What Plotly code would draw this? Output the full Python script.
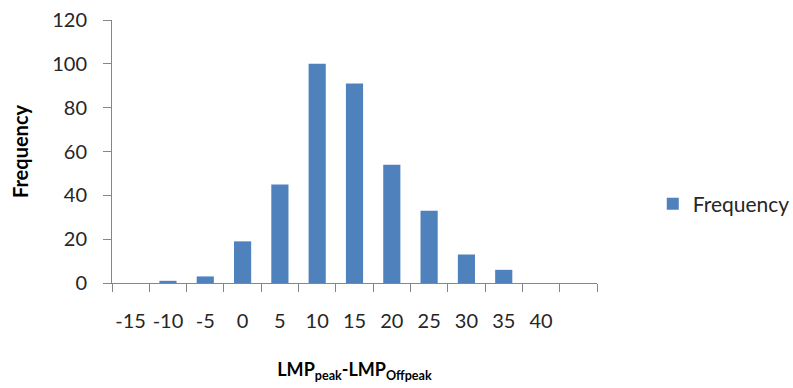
import plotly.graph_objects as go

bins = ["-15", "-10", "-5", "0", "5", "10", "15", "20", "25", "30", "35", "40", " "]
freq = [0, 1, 3, 19, 45, 100, 91, 54, 33, 13, 6, 0, 0]
y_ticks = [0, 20, 40, 60, 80, 100, 120]

FONT = "Lato"
AX = "#868686"

fig = go.Figure()
fig.add_trace(go.Bar(
    x=bins, y=freq, name="Frequency",
    marker=dict(color="#4F81BD", line=dict(width=0)),
    showlegend=True,
))

fig.update_layout(
    width=793, height=388,
    margin=dict(l=112, r=196, t=20, b=105, autoexpand=False),
    paper_bgcolor="white", plot_bgcolor="white",
    font=dict(family=FONT, color="#262626", size=20),
    bargap=0.54,
    showlegend=True,
    legend=dict(x=1.115, y=0.30, xanchor="left", yanchor="middle",
                font=dict(family=FONT, size=21, color="#262626"),
                itemwidth=30),
    xaxis=dict(
        type="category", categoryorder="array", categoryarray=bins,
        tickson="boundaries", ticks="outside", ticklen=8, tickcolor=AX,
        showline=True, linecolor=AX, linewidth=1, showgrid=False,
        tickangle=0, automargin=False,
        ticklabelstandoff=20,
        title=dict(text="<b>LMP<sub>peak</sub>-LMP<sub>Offpeak</sub></b>",
                   font=dict(family=FONT, size=18, color="#000000"), standoff=32),
    ),
    yaxis=dict(
        range=[0, 120], tickvals=y_ticks, ticks="outside", ticklen=8, tickcolor=AX,
        showline=True, linecolor=AX, linewidth=1, showgrid=False, zeroline=False,
        ticklabelstandoff=12, automargin=False,
        title=dict(text="<b>Frequency</b>", font=dict(family=FONT, size=20, color="#000000"),
                   standoff=18),
    ),
)

fig.write_html("out.html")
